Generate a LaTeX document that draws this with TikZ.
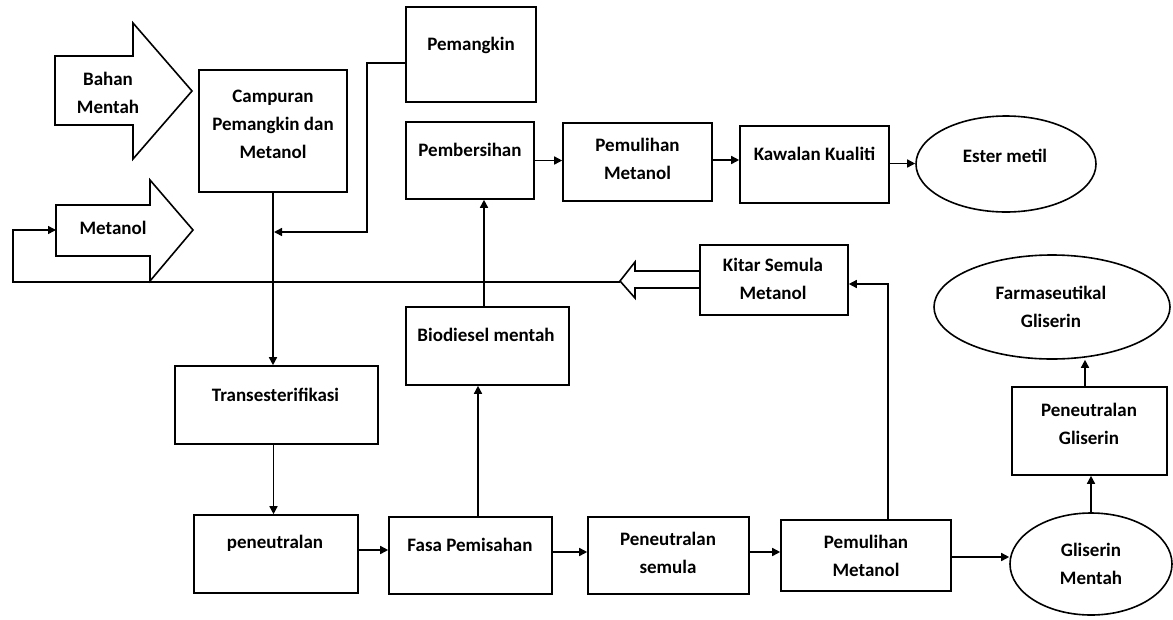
\documentclass[tikz,border=0pt]{standalone}
\usepackage{fontspec}
\setmainfont{Carlito}
\usetikzlibrary{arrows.meta, shapes.geometric}

\begin{document}
\begin{tikzpicture}[x=1pt, y=-1pt,
    box/.style={draw, line width=1.6pt, inner sep=0pt},
    oval/.style={draw, ellipse, line width=1.6pt, inner sep=0pt},
    txt/.style={font=\fontsize{19}{28}\selectfont\bfseries, align=center, inner sep=0pt},
    flow/.style={line width=1.5pt, -{Triangle[length=8pt,width=8pt]}}]
    \useasboundingbox (0,0) rectangle (1173,619);

    % masukan
    \draw [line width=1.6pt, line join=miter] (55,56) -- (133,56) -- (133,23) -- (192,91)
        -- (133,159) -- (133,125) -- (55,125) -- cycle;
    \node [txt] (rawtxt) at (108,93) {Bahan\\Mentah};
    \draw [line width=1.6pt, line join=miter] (56,205) -- (150,205) -- (150,180) -- (193,230)
        -- (150,281) -- (150,256) -- (56,256) -- cycle;
    \node [txt] (methtxt) at (113,228) {Metanol};
    \coordinate (methin) at (56,230);

    % kotak
    \node [box, minimum width=148, minimum height=122] (mix) at (273,131) {};
    \node [txt] (mixtxt) at (273,124) {Campuran\\Pemangkin dan\\Metanol};
    \node [box, minimum width=130, minimum height=95] (cat) at (471,54.5) {};
    \node [txt] (cattxt) at (471,45) {Pemangkin};
    \node [box, minimum width=128, minimum height=77] (clean) at (470,160.5) {};
    \node [txt] (cleantxt) at (470,150) {Pembersihan};
    \node [box, minimum width=149, minimum height=78] (recA) at (637.5,162) {};
    \node [txt] (recAtxt) at (637.5,158.5) {Pemulihan\\Metanol};
    \node [box, minimum width=149, minimum height=77] (qc) at (814.5,164.5) {};
    \node [txt] (qctxt) at (814.5,154) {Kawalan Kualiti};
    \node [oval, minimum width=180, minimum height=96] (ester) at (1006,164) {};
    \node [txt] (estertxt) at (1005,156) {Ester metil};
    \node [box, minimum width=148, minimum height=70] (cycle) at (774,280) {};
    \node [txt] (cycletxt) at (773,279) {Kitar Semula\\Metanol};
    \node [oval, minimum width=236, minimum height=104] (pharma) at (1052,307) {};
    \node [txt] (pharmatxt) at (1051,306.5) {Farmaseutikal\\Gliserin};
    \node [box, minimum width=203, minimum height=78] (trans) at (276.5,405) {};
    \node [txt] (transtxt) at (275.5,395) {Transesterifikasi};
    \node [box, minimum width=163, minimum height=78] (bio) at (487.5,346) {};
    \node [txt] (biotxt) at (486,335) {Biodiesel mentah};
    \node [box, minimum width=155, minimum height=88] (glyneut) at (1089.5,431) {};
    \node [txt] (glyneuttxt) at (1089,423.5) {Peneutralan\\Gliserin};
    \node [box, minimum width=164, minimum height=78] (neut) at (276,554) {};
    \node [txt] (neuttxt) at (275,543) {peneutralan};
    \node [box, minimum width=163, minimum height=77] (phase) at (470.5,555.5) {};
    \node [txt] (phasetxt) at (470,545) {Fasa Pemisahan};
    \node [box, minimum width=161, minimum height=77] (reneut) at (668.5,555.5) {};
    \node [txt] (reneuttxt) at (668,552.5) {Peneutralan\\semula};
    \node [box, minimum width=170, minimum height=71] (recB) at (866,555.5) {};
    \node [txt] (recBtxt) at (866,555.5) {Pemulihan\\Metanol};
    \node [oval, minimum width=162, minimum height=102] (crude) at (1091,564) {};
    \node [txt] (crudetxt) at (1091,563.5) {Gliserin\\Mentah};

    % anak panah berongga
    \draw [line width=1.6pt, line join=miter] (700,271) -- (635,271) -- (635,262) -- (620,281)
        -- (635,298) -- (635,288) -- (700,288);
    \coordinate (rtip) at (620,282);
    \coordinate (rcorner) at (13,282);
    \coordinate (join) at (274,232);

    % aliran
    \draw [flow] ([yshift=-8.5]cat.west) -- ++(-38,0) |- (join);
    \draw [flow] (rtip) -- (rcorner) |- (methin);
    \draw [flow] (mix.south) -- (mix.south |- trans.north);
    \draw [flow] ([xshift=-3]trans.south) -- ([xshift=-3]trans.south |- neut.north);
    \draw [flow] ([yshift=4]neut.east) -- ([yshift=4]neut.east -| phase.west);
    \draw [flow] ([yshift=3.5]phase.east) -- ([yshift=3.5]phase.east -| reneut.west);
    \draw [flow] ([yshift=3.5]reneut.east) -- ([yshift=3.5]reneut.east -| recB.west);
    \draw [flow] ([yshift=-1.5]recB.east) -- ([yshift=-1.5]recB.east -| crude.west);
    \draw [flow] ([xshift=7.5]phase.north) -- ([xshift=7.5]phase.north |- bio.south);
    \draw [flow] ([xshift=-3.5]bio.north) -- ([xshift=-3.5]bio.north |- clean.south);
    \draw [flow] (clean.east) -- (clean.east -| recA.west);
    \draw [flow] ([yshift=2]recA.east) -- ([yshift=2]recA.east -| qc.west);
    \draw [flow] ([yshift=1]qc.east) -- ([yshift=1]qc.east -| ester.west);
    \draw [flow] ([xshift=22]recB.north) |- ([yshift=-4]cycle.east);
    \draw [flow] (crude.north) -- (crude.north |- glyneut.south);
    \draw [flow] ([xshift=-4.5]glyneut.north) -- ([xshift=-4.5]glyneut.north |- pharma.south);
\end{tikzpicture}
\end{document}
